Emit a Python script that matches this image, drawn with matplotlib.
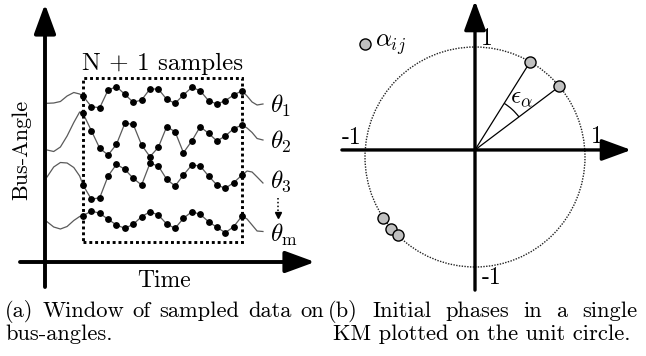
import numpy as np
import matplotlib
matplotlib.use('Agg')
import matplotlib.pyplot as plt
from matplotlib.patches import Rectangle, Circle, Arc

plt.rcParams['font.family'] = 'cmr10'
plt.rcParams['mathtext.fontset'] = 'cm'
plt.rcParams['axes.unicode_minus'] = False

W, H = 646, 356

# (a) bus angles: N + 1 = 20 samples in the window
samples = np.arange(20)
theta_1 = [16.60, 15.53, 15.43, 17.20, 17.53, 16.77, 15.97, 16.20, 17.30, 17.30,
           16.27, 15.87, 16.70, 17.47, 17.13, 16.13, 15.80, 16.13, 16.70, 17.13]
theta_2 = [14.87, 13.13, 11.37, 10.70, 11.77, 13.87, 13.77, 11.70, 10.53, 11.47,
           13.53, 13.03, 10.93, 12.10, 13.53, 12.87, 12.10, 12.60, 13.33, 13.70]
theta_3 = [7.70, 6.27, 6.43, 8.60, 9.77, 9.27, 8.37, 7.70, 9.87, 9.60,
           8.27, 7.60, 8.70, 9.70, 9.60, 8.60, 7.70, 7.37, 7.93, 8.70]
theta_m = [4.63, 5.10, 4.87, 4.27, 3.70, 3.37, 3.77, 4.53, 5.03, 4.70,
           3.80, 3.37, 4.37, 5.03, 4.77, 4.03, 3.47, 2.93, 3.53, 4.60]

# signal outside the window (not sampled)
pre_k = [-4.3, -3.5, -2.7, -1.9, -1.1, -0.4]
post_k = [19.6, 20.2, 20.8, 21.5]
theta_1_pre = [15.87, 15.90, 16.05, 16.60, 16.95, 16.80]
theta_2_pre = [11.20, 11.05, 11.50, 12.60, 13.95, 15.00]
theta_3_pre = [8.50, 9.50, 9.95, 9.90, 9.45, 8.60]
theta_m_pre = [4.03, 3.50, 3.30, 3.55, 4.15, 4.55]
theta_1_post = [16.60, 16.00, 15.70, 15.80]
theta_2_post = [13.40, 12.95, 12.35, 12.20]
theta_3_post = [9.10, 9.00, 8.50, 7.90]
theta_m_post = [4.30, 3.70, 3.10, 3.05]
series_labels = [r'$\theta_1$', r'$\theta_2$', r'$\theta_3$', r'$\theta_{\mathrm{m}}$']
label_base = [14.9, 11.3, 7.4, 2.05]

# (b) initial phases (degrees) on the unit circle
phases = [59.9, 39.9, 213.5, 220.6, 225.5]
axis_y0 = 0.064  # horizontal axis sits a little above the circle centre

cap_a = ['(a) Window of sampled data on', 'bus-angles.']
cap_b = ['(b) Initial phases in a single', 'KM plotted on the unit circle.']


def px_axes(fig, x0, y0, w, h):
    ax = fig.add_axes([x0 / W, 1 - (y0 + h) / H, w / W, h / H])
    ax.set_axis_off()
    return ax


def arrow(ax, start, end, lw, scale=12):
    ax.annotate('', xy=end, xytext=start,
                arrowprops=dict(arrowstyle='-|>,head_length=1.5,head_width=0.55',
                                lw=lw, color='k', shrinkA=0, shrinkB=0,
                                mutation_scale=scale))


def text_width(fig, s, size):
    t = fig.text(0, 0, s, fontsize=size)
    w = t.get_window_extent(renderer=fig.canvas.get_renderer()).width
    t.remove()
    return w


def justified(fig, words, x0, x1, y, size):
    r = fig.canvas.get_renderer()
    texts = [fig.text(0, 1 - y / H, w, fontsize=size, va='baseline') for w in words]
    widths = [t.get_window_extent(renderer=r).width for t in texts]
    gap = (x1 - x0 - sum(widths)) / (len(words) - 1)
    x = x0
    for t, wd in zip(texts, widths):
        t.set_x(x / W)
        x += wd + gap


fig = plt.figure(figsize=(W / 100, H / 100), dpi=100)

# ---- left panel, pixel box -> sample index / angle units
axl = px_axes(fig, 0, 0, 323, 300)
kx = 8.37   # px per sample
axl.set_xlim((0 - 83) / kx, (323 - 83) / kx)
axl.set_ylim((262 - 300) / 10, 262 / 10)

pres = [theta_1_pre, theta_2_pre, theta_3_pre, theta_m_pre]
posts = [theta_1_post, theta_2_post, theta_3_post, theta_m_post]
for vals, pre, post, lab, yb in zip([theta_1, theta_2, theta_3, theta_m], pres, posts,
                                    series_labels, label_base):
    xs = np.concatenate([pre_k, samples, post_k])
    ys = np.concatenate([pre, vals, post])
    axl.plot(xs, ys, color='#5a5a5a', lw=0.9, zorder=2)
    axl.plot(samples, vals, 'o', color='k', ms=3.9, zorder=3)
    axl.text(22.4, yb, lab, fontsize=18, va='baseline', ha='left')

box_pad = 0.9
lo = min(theta_m) - box_pad
hi = max(theta_1) + box_pad
axl.add_patch(Rectangle((samples[0], lo), samples[-1] - samples[0], hi - lo,
                        fill=False, lw=2.1, ls=(0, (1, 1)), color='k', zorder=4))
axl.text(samples.mean(), hi + 1.4, 'N + 1 samples', fontsize=18, ha='center', va='center')

# dotted arrow theta_3 -> theta_m
axl.plot([23.26, 23.26], [6.4, 4.9], ls=(0, (1, 1.5)), color='k', lw=1.1)
axl.plot([23.26], [4.75], marker='v', ms=4, color='k')

arrow(axl, ((20 - 83) / kx, 0), ((315 - 83) / kx, 0), 2.8)
arrow(axl, ((45 - 83) / kx, -2.5), ((45 - 83) / kx, 25.8), 2.8)
axl.text((22 - 83) / kx, 11.2, 'Bus-Angle', rotation=90, fontsize=16, ha='center', va='center')
axl.text((164 - 83) / kx, -1.9, 'Time', fontsize=17, ha='center', va='center')

# ---- right panel, pixel box -> unit circle coordinates
axr = px_axes(fig, 325, 0, 321, 300)
s = 110.0
axr.set_xlim((325 - 475) / s, (646 - 475) / s)
axr.set_ylim((157 - 300) / s, 157 / s)

axr.add_patch(Circle((0, 0), 1, fill=False, lw=1.0, ls=(0, (1, 1)), color='#222222', zorder=1))
arrow(axr, (-1.21, axis_y0), (1.42, axis_y0), 2.4)
arrow(axr, (0, -1.21), (0, 1.42), 2.4)

ang = np.radians(phases)
px_, py_ = np.cos(ang), np.sin(ang)
for i in range(2):
    axr.plot([0, px_[i]], [axis_y0, py_[i]], color='k', lw=0.9, zorder=2)
a_lo = np.degrees(np.arctan2(py_[1] - axis_y0, px_[1]))
a_hi = np.degrees(np.arctan2(py_[0] - axis_y0, px_[0]))
axr.add_patch(Arc((0, axis_y0), 1.0, 1.0, theta1=a_lo, theta2=a_hi, lw=0.9, color='k'))
axr.plot(px_, py_, 'o', ms=8, mfc='#c0c0c0', mec='k', mew=1.0, zorder=5)
axr.text(0.42, 0.534, r'$\epsilon_\alpha$', fontsize=18, ha='center', va='center')

axr.plot([-1.0], [1.025], 'o', ms=8, mfc='#c0c0c0', mec='k', mew=1.0)
axr.text(-0.91, 1.02, r'$\alpha_{ij}$', fontsize=18, ha='left', va='center')

axr.text(0.106, 1.075, '1', fontsize=17, ha='center', va='center')
axr.text(1.106, 0.185, '1', fontsize=17, ha='center', va='center')
axr.text(-1.12, 0.17, '-1', fontsize=17, ha='center', va='center')
axr.text(0.152, -1.103, '-1', fontsize=17, ha='center', va='center')

# ---- captions (size fitted to the width of the last line of (b))
cap = 10 * 297 / text_width(fig, cap_b[1], 10)
justified(fig, cap_a[0].split(), 5, 324, 317, cap)
fig.text(5 / W, 1 - 339.5 / H, cap_a[1], fontsize=cap, va='baseline')
justified(fig, cap_b[0].split(), 328, 637, 317, cap)
fig.text(482 / W, 1 - 339.5 / H, cap_b[1], fontsize=cap, va='baseline', ha='center')

fig.savefig('out.png', dpi=100)
